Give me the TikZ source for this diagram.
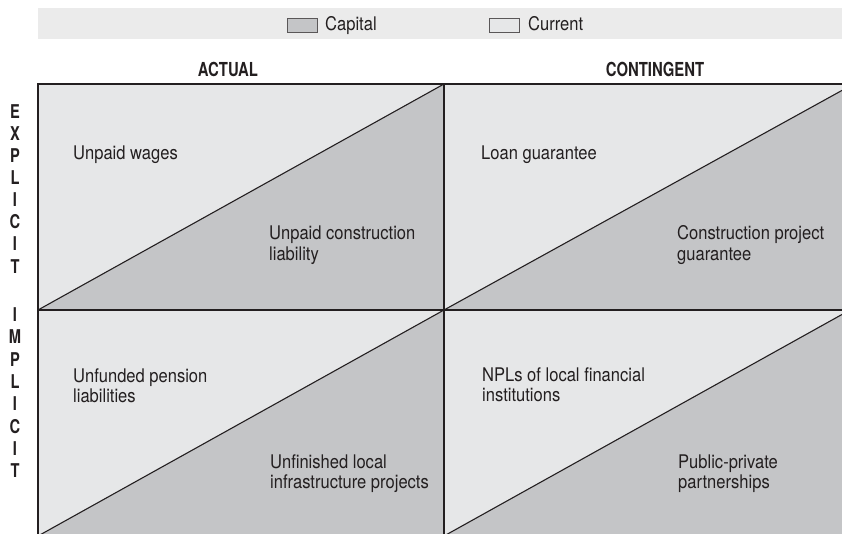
\documentclass[tikz,border=0pt]{standalone}
\usepackage{fontspec}
\setmainfont{TeX Gyre Heros}[FakeStretch=0.88,BoldFeatures={FakeStretch=0.77}]
\definecolor{current}{HTML}{E6E7E8}
\definecolor{capital}{HTML}{C4C5C7}
\definecolor{band}{HTML}{EBEBEB}
\definecolor{ink}{HTML}{231F20}
\newcommand\cellfont{\fontsize{18.8}{20.8}\selectfont}
\newcommand\twolines[2]{\begin{tabular}[t]{@{}l@{}}#1\\#2\end{tabular}}
\begin{document}
\begin{tikzpicture}[x=1pt,y=-1pt,
  celltext/.style={anchor=base west, inner sep=0pt, font=\cellfont, text=ink},
  legendtext/.style={anchor=base west, inner sep=0pt, font=\cellfont, text=ink},
  head/.style={anchor=base, inner sep=0pt, font=\fontsize{19.3}{20}\selectfont\bfseries, text=ink},
  sideletter/.style={anchor=base, inner sep=0pt, font=\fontsize{19}{20}\selectfont\bfseries, text=ink},
  swatch/.style={draw=ink!75, line width=0.9pt, minimum width=30pt, minimum height=14pt, inner sep=0pt},
  frame/.style={draw=ink, line width=1.6pt},
  diag/.style={draw=ink, line width=1.1pt}]
\useasboundingbox (0,0) rectangle (842,534);

% legend band
\fill[band] (38,8) rectangle (842,39);
\node[swatch, fill=capital] (capbox) at (302,25) {};
\node[legendtext] (caplbl) at (325,31) {Capital};
\node[swatch, fill=current] (curbox) at (504.5,25) {};
\node[legendtext] (curlbl) at (528,31) {Current};

% column headings
\node[head] (actual) at (228,77) {ACTUAL};
\node[head] (contingent) at (655,77) {CONTINGENT};

% row headings, one letter per line
\foreach \l [count=\i from 0] in {E,X,P,L,I,C,I,T}
  \node[sideletter] (exp\i) at (15,119+22*\i) {\l};
\foreach \l [count=\i from 0] in {I,M,P,L,I,C,I,T}
  \node[sideletter] (imp\i) at (15,321.5+22.3*\i) {\l};

% the four cells, each split into current (upper left) and capital (lower right)
\begin{scope}
\clip (0,0) rectangle (842,534);
\fill[current] (38,84) rectangle (850,536);
\fill[capital] (38,310) -- (444,84) -- (444,310) -- cycle;
\fill[capital] (444,310) -- (850,86) -- (850,310) -- cycle;
\fill[capital] (38,536) -- (444,310) -- (444,536) -- cycle;
\fill[capital] (444,536) -- (850,310) -- (850,536) -- cycle;
\draw[diag] (38,310) -- (444,84);
\draw[diag] (444,310) -- (850,86);
\draw[diag] (38,536) -- (444,310);
\draw[diag] (444,536) -- (850,310);
\draw[frame, line width=1.4pt] (38,310) -- (850,310);
\draw[frame] (38,540) -- (38,84);
\draw[frame, line width=1.8pt] (444,84) -- (444,540);
\draw[frame, line width=2.2pt] (37.2,84) -- (850,84);
\end{scope}

% cell labels
\node[celltext] (wages) at (73,160) {Unpaid wages};
\node[celltext] (constr) at (269,240) {\twolines{Unpaid construction}{liability}};
\node[celltext] (loan) at (481,160) {Loan guarantee};
\node[celltext] (projg) at (677,240) {\twolines{Construction project}{guarantee}};
\node[celltext] (pension) at (73,382) {\twolines{Unfunded pension}{liabilities}};
\node[celltext] (infra) at (270,468) {\twolines{Unfinished local}{infrastructure projects}};
\node[celltext] (npl) at (482,381) {\twolines{NPLs of local financial}{institutions}};
\node[celltext] (ppp) at (678,468) {\twolines{Public-private}{partnerships}};
\end{tikzpicture}
\end{document}
